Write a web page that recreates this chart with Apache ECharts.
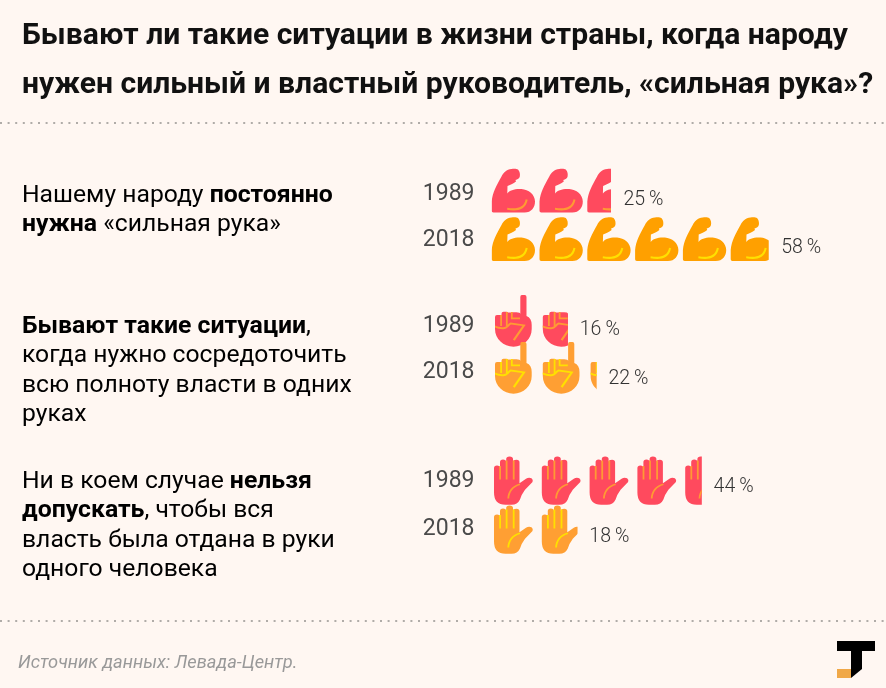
<!DOCTYPE html>
<html><head><meta charset="utf-8">
<style>html,body{margin:0;padding:0;background:#fff7f2}#c{width:886px;height:688px}</style>
<script src="https://cdn.jsdelivr.net/npm/echarts@6/dist/echarts.min.js"></script>
</head><body><div id="c"></div>
<script>
var years = ['1989', '2018'];
var alwaysNeeded = [25, 58];
var sometimesNeeded = [16, 22];
var neverAllowed = [44, 18];
var titleText = 'Бывают ли такие ситуации в жизни страны, когда народу\nнужен сильный и властный руководитель, «сильная рука»?';
var sourceText = 'Источник данных: Левада-Центр.';
var textOne = '{n|Нашему народу }{b|постоянно}\n{b|нужна}{n| «сильная рука»}';
var textTwo = '{b|Бывают такие ситуации}{n|,}\n{n|когда нужно сосредоточить}\n{n|всю полноту власти в одних}\n{n|руках}';
var textThree = '{n|Ни в коем случае }{b|нельзя}\n{b|допускать}{n|, чтобы вся}\n{n|власть была отдана в руки}\n{n|одного человека}';

var RED = '#ff4a5e', RED_LINE = '#ff9a33';
var corners = function (w, h) { return 'M0 0L0 0M' + w + ' ' + h + 'L' + w + ' ' + h; };
var armBody = 'path://' + corners(47.8, 44) + 'M0.2 42V33C1 24 5 17 10 8C12 4 15 1 20 0.5C22 0.2 25 0 26.5 1C28.5 3 28.7 6 28.3 8C28 10 26 11 24 11.5L24.5 13C22 15 18 16.5 16 17.5L15.8 25C18 21.5 24 20 30 20.5C37 21 43.5 26 43.5 33C43.5 39 40 44 33 44H2C0.8 44 0.2 43 0.2 42Z';
var armLine = 'path://' + corners(47.8, 44) + 'M15.8 39.2C24 40.8 32.6 40 34.2 30.8L36.2 31.2C34 42.2 24.5 43 15.6 41.2Z';
var fistBody = 'path://' + corners(47.8, 52) + 'M3.5 34V22Q3.5 20 5.5 20H10V18.7Q10 16.7 12 16.7H15Q16.5 16.7 16.5 17.5H20V17.3H25Q28.8 17.3 28.8 19V2Q28.8 0 30.4 0H33.2Q35 0 35 2V21Q40.2 23 40.2 30V34C40.2 44 32 51.7 22 51.7C12 51.7 3.5 44 3.5 34Z';
var fistLine = 'path://' + corners(47.8, 52)
  + 'M8.7 20H10.5V31H8.7Z'
  + 'M14.4 17H16.2V31H14.4Z'
  + 'M19.4 17H21.2V22.4H28.5V24.2H19.4Z'
  + 'M3.5 30.5C7 32 10 32.6 13 32C15.5 31.5 16.5 28.6 19 27.5L34.2 29.7L23.2 45.7L21.4 44.5L30.8 31.1L19.5 29.5C17.5 30.6 16.5 33.4 13 34C10 34.5 7 34 3.5 32.5Z';
var handBody = 'path://' + corners(47.8, 49) + 'M2.5 31V11.5Q2.5 9 5.5 9Q8.5 9 8.5 11.5V5.5Q8.5 3 11.5 3Q14.7 3 14.7 5.5V2.5Q14.7 0 18 0Q21.5 0 21.5 2.5V5.5Q21.5 3.3 25 3.3Q28 3.3 28 6V26.7L34.5 22.3Q37 20.5 40 21.7Q42 23.5 41 25.5L33.5 33.3Q30 38 28.5 43Q26 48.3 20 48.3H14Q2.5 48.3 2.5 36Z';
var handLine = 'path://' + corners(47.8, 49)
  + 'M7.7 9.5H9.5V23H7.7Z'
  + 'M14.2 4H16V23H14.2Z'
  + 'M21.3 4H23.1V23H21.3Z'
  + 'M15.9 42C16.1 35 20.5 28.7 28.2 26.9L28.8 28.5C22 30.3 17.9 35.5 17.7 42Z';

var groups = [
  { values: alwaysNeeded, body: armBody, line: armLine, h: 44, top: 166.25, height: 97, colors: [RED, '#ffa000'], lineColors: [RED_LINE, '#ffe000'], yearShift: [3.5, 1], labelShift: [9.5, 9.5], labelX: 12.5 },
  { values: sometimesNeeded, body: fistBody, line: fistLine, h: 52, top: 297.5, height: 94, colors: [RED, '#ff9f33'], lineColors: [RED_LINE, '#ffe000'], yearShift: [5, 4], labelShift: [9.5, 11], labelX: 11.8 },
  { values: neverAllowed, body: handBody, line: handLine, h: 49, top: 456.5, height: 98, colors: [RED, '#ff9f33'], lineColors: [RED_LINE, '#ffe000'], yearShift: [0, -1], labelShift: [6, 7], labelX: 11.8 }
];

var grid = [], xAxis = [], yAxis = [], series = [];
groups.forEach(function (g, i) {
  grid.push({ left: 491.5, width: 382.4, top: g.top, height: g.height });
  xAxis.push({ type: 'value', gridIndex: i, min: 0, max: 80, show: false });
  var rich = {};
  g.yearShift.forEach(function (d, k) {
    rich['r' + k] = { fontFamily: 'Roboto', fontSize: 23, color: '#4a4a4a', padding: d > 0 ? [2 * d, 0, 0, 0] : [0, 0, -2 * d, 0] };
  });
  yAxis.push({
    type: 'category', gridIndex: i, inverse: true, data: years,
    axisLine: { show: false }, axisTick: { show: false }, splitLine: { show: false },
    axisLabel: { margin: 17, formatter: function (v, k) { return '{r' + k + '|' + v + '}'; }, rich: rich }
  });
  var common = {
    type: 'pictorialBar', xAxisIndex: i, yAxisIndex: i, animation: false, silent: true,
    symbolRepeat: 8, symbolBoundingData: 80, symbolClip: true, symbolSize: [47.8, g.h], symbolMargin: 0, symbolPosition: 'start'
  };
  series.push(Object.assign({}, common, {
    symbol: g.body, z: 2,
    data: g.values.map(function (v, k) { return { value: v, itemStyle: { color: g.colors[k] } }; })
  }));
  series.push(Object.assign({}, common, {
    symbol: g.line, z: 3,
    data: g.values.map(function (v, k) { return { value: v, itemStyle: { color: g.lineColors[k] } }; })
  }));
  series.push({
    type: 'bar', xAxisIndex: i, yAxisIndex: i, animation: false, silent: true, z: 4, barWidth: 2,
    itemStyle: { color: 'transparent' },
    label: {
      show: true, position: 'right', distance: 0, fontFamily: 'Roboto', fontWeight: 300, fontSize: 19.5, color: '#333',
      formatter: function (p) { return p.value + '\u2009%'; }
    },
    data: g.values.map(function (v, k) { return { value: v, label: { offset: [g.labelX, g.labelShift[k]] } }; })
  });
});

var bodyRich = {
  n: { fontFamily: 'Roboto', fontSize: 24.7, color: '#111', lineHeight: 29.6 },
  b: { fontFamily: 'Roboto', fontSize: 24.8, fontWeight: 700, color: '#000', lineHeight: 29.6 }
};
function block(text, y) {
  return { type: 'text', left: 22, top: y, z: 10, style: { text: text, rich: bodyRich } };
}
function dots(y) {
  return { type: 'line', z: 1, shape: { x1: 0, y1: y, x2: 886, y2: y }, style: { stroke: '#b0aca8', lineWidth: 2, lineDash: [2, 5.6] } };
}

var chart = echarts.init(document.getElementById('c'), null, { renderer: 'canvas' });
chart.setOption({
  animation: false,
  backgroundColor: '#fff7f2',
  title: {
    text: titleText, left: 22, top: 12.5, padding: 0,
    textStyle: { fontFamily: 'Roboto', fontSize: 30.1, fontWeight: 700, color: '#111', lineHeight: 48.5 }
  },
  grid: grid, xAxis: xAxis, yAxis: yAxis, series: series,
  graphic: [
    dots(123), dots(621),
    block(textOne, 183),
    block(textTwo, 314),
    block(textThree, 469),
    { type: 'text', left: 18, top: 654.5, style: { text: sourceText, fontFamily: 'Roboto', fontStyle: 'italic', fontSize: 18.3, fill: '#999' } },
    { type: 'rect', shape: { x: 837, y: 641, width: 38, height: 10 }, style: { fill: '#000' } },
    { type: 'polygon', shape: { points: [[851, 651], [862, 651], [862, 669], [851, 678]] }, style: { fill: '#000' } },
    { type: 'rect', shape: { x: 837, y: 669, width: 14, height: 9 }, style: { fill: '#f0a848' } }
  ]
});
</script></body></html>
